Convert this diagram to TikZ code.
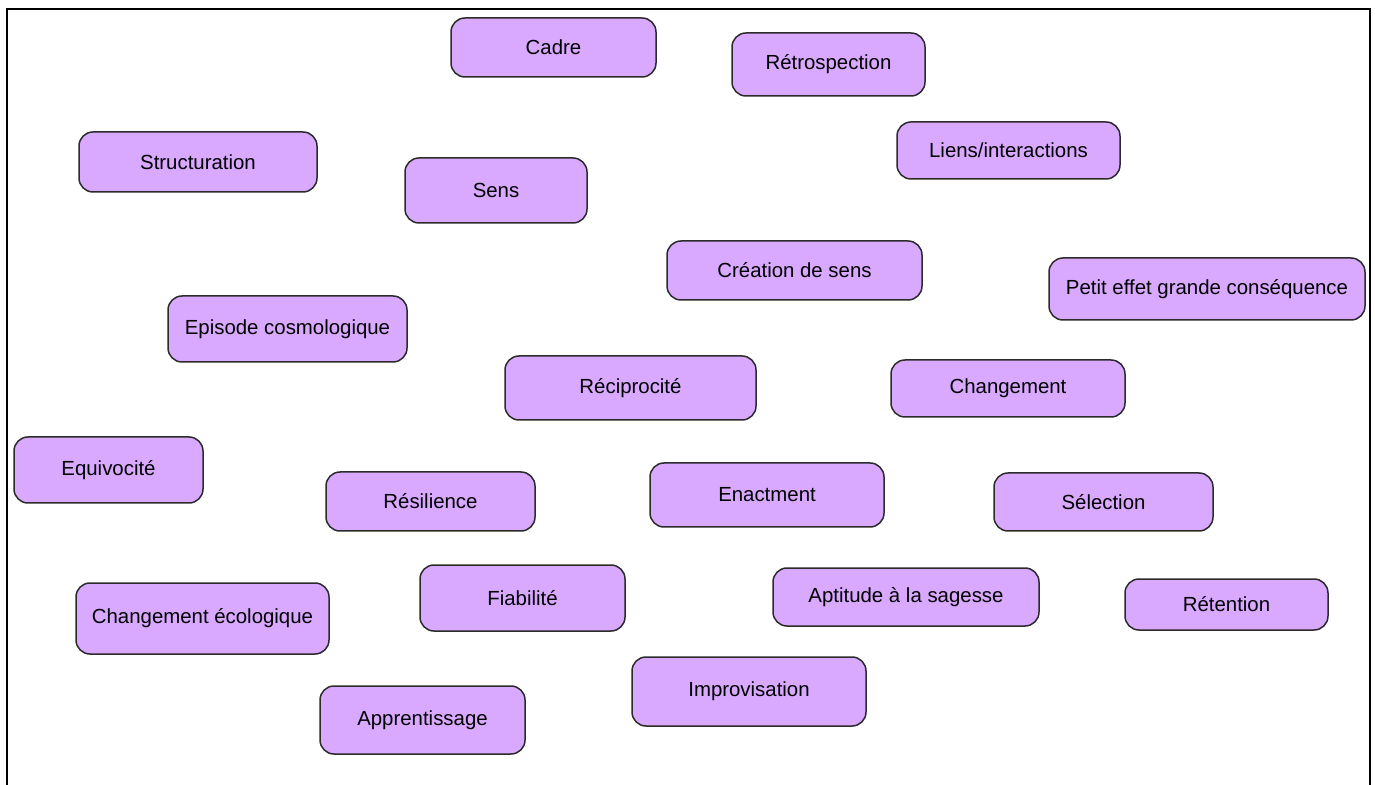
\documentclass[tikz,border=0pt]{standalone}
\usepackage{fontspec}
\setmainfont{Liberation Sans}
\usepackage{tikz}
\usetikzlibrary{positioning}

\definecolor{lilas}{HTML}{D9A8FF}
\definecolor{bord}{HTML}{2B2B2B}

\tikzset{
  concept/.style={draw=bord, line width=0.75pt, fill=lilas, rounded corners=7pt,
    inner sep=0pt, font=\fontsize{10.2}{12}\selectfont, text=black}
}

\begin{document}
\begin{tikzpicture}[x=0.5pt, y=-0.5pt]
                      \useasboundingbox (0,0) rectangle (1375,785);
                      \draw[line width=1pt] (7,785) -- (7,9) -- (1370,9) -- (1370,785);
                      % ligne du haut
                      \node[concept, minimum width=102.5pt, minimum height=29.5pt] (cadre) at (553.5,47.5) {Cadre};
                      \node[concept, minimum width=96.5pt, minimum height=31.5pt] (retro) at (828.5,64.5) {Rétrospection};
                      \node[concept, minimum width=119pt, minimum height=30pt] (struct) at (198,162) {Structuration};
                      \node[concept, minimum width=91pt, minimum height=32.5pt] (sens) at (496,190.5) {Sens};
                      \node[concept, minimum width=111.5pt, minimum height=28.5pt] (liens) at (1008.5,150.5) {Liens/interactions};
                      % milieu
                      \node[concept, minimum width=127.5pt, minimum height=29.5pt] (creation) at (794.5,270.5) {Création de sens};
                      \node[concept, minimum width=158pt, minimum height=31pt] (petit) at (1207,289) {Petit effet grande conséquence};
                      \node[concept, minimum width=119.5pt, minimum height=33pt] (episode) at (287.5,329) {Episode cosmologique};
                      \node[concept, minimum width=125.5pt, minimum height=32pt] (recip) at (630.5,388) {Réciprocité};
                      \node[concept, minimum width=117pt, minimum height=28.5pt] (chgt) at (1008,388.5) {Changement};
                      \node[concept, minimum width=94.5pt, minimum height=33pt] (equiv) at (108.5,470) {Equivocité};
                      \node[concept, minimum width=104.5pt, minimum height=29.5pt] (resil) at (430.5,501.5) {Résilience};
                      \node[concept, minimum width=117pt, minimum height=32pt] (enact) at (767,495) {Enactment};
                      \node[concept, minimum width=109.5pt, minimum height=29pt] (select) at (1103.5,502) {Sélection};
                      % bas
                      \node[concept, minimum width=126.5pt, minimum height=35.5pt] (chgeco) at (202.5,618.5) {Changement écologique};
                      \node[concept, minimum width=102.5pt, minimum height=33pt] (fiab) at (522.5,598) {Fiabilité};
                      \node[concept, minimum width=133pt, minimum height=29pt] (sagesse) at (906,597) {Aptitude à la sagesse};
                      \node[concept, minimum width=101.5pt, minimum height=25.5pt] (retention) at (1226.5,604.5) {Rétention};
                      \node[concept, minimum width=117pt, minimum height=34.5pt] (improv) at (749,691.5) {Improvisation};
                      \node[concept, minimum width=102.5pt, minimum height=34pt] (appren) at (422.5,720) {Apprentissage};
                  \end{tikzpicture}
\end{document}
